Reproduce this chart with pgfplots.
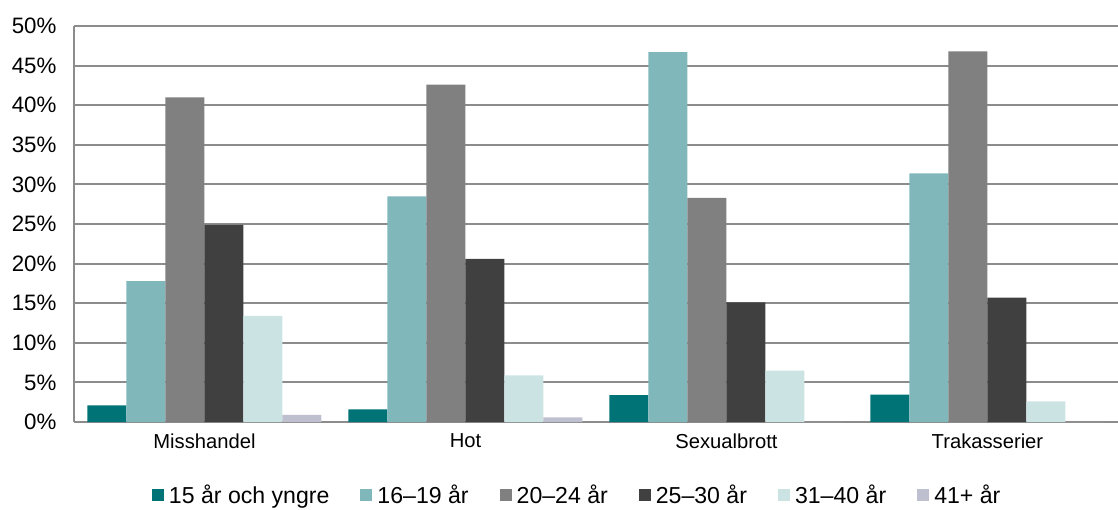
\documentclass[border=0pt]{standalone}
\usepackage{fontspec}
\setmainfont{Liberation Sans}
\usepackage{pgfplots}
\pgfplotsset{compat=1.18}
\definecolor{cA}{HTML}{007377}
\definecolor{cB}{HTML}{7FB7BB}
\definecolor{cC}{HTML}{808080}
\definecolor{cD}{HTML}{404040}
\definecolor{cE}{HTML}{CCE3E4}
\definecolor{cF}{HTML}{BEC0D0}
\definecolor{gridc}{HTML}{8C8C8C}
\begin{document}
\begin{tikzpicture}
\begin{axis}[
  scale only axis, width=1044pt, height=396pt,
  ybar=0pt, bar width=39pt,
  xmin=-0.5, xmax=3.5, ymin=0, ymax=50,
  xtick={0,1,2,3},
  xticklabels={Misshandel,Hot,Sexualbrott,Trakasserier},
  ytick={0,5,...,50},
  yticklabels={0\%,5\%,10\%,15\%,20\%,25\%,30\%,35\%,40\%,45\%,50\%},
  major tick length=0pt,
  axis lines*=left,
  axis line style={draw=gridc, line width=2pt},
  ymajorgrids, grid style={draw=gridc, line width=2pt},
  tick label style={text=black},
  xticklabel style={font=\fontsize{20.2}{24}\selectfont, yshift=-8pt},
  yticklabel style={font=\fontsize{22.3}{26}\selectfont, xshift=-14pt},
  legend style={draw=none, fill=none, at={(0.482,-0.185)}, anchor=center,
    legend columns=6, font=\fontsize{23.1}{26}\selectfont,
    /tikz/every odd column/.append style={column sep=3pt},
    /tikz/every even column/.append style={column sep=29pt}},
  legend image code/.code={\fill[#1] (0pt,-6pt) rectangle (12pt,6pt);},
]
\addplot[fill=cA, draw=none] coordinates {(0,2.1) (1,1.6) (2,3.4) (3,3.45)};
\addplot[fill=cB, draw=none] coordinates {(0,17.8) (1,28.5) (2,46.7) (3,31.4)};
\addplot[fill=cC, draw=none] coordinates {(0,41.0) (1,42.6) (2,28.3) (3,46.8)};
\addplot[fill=cD, draw=none] coordinates {(0,24.9) (1,20.6) (2,15.1) (3,15.7)};
\addplot[fill=cE, draw=none] coordinates {(0,13.4) (1,5.9) (2,6.5) (3,2.6)};
\addplot[fill=cF, draw=none] coordinates {(0,0.9) (1,0.6) (2,0) (3,0)};
\legend{15 år och yngre,16–19 år,20–24 år,25–30 år,31–40 år,41+ år}
\end{axis}
\pgfresetboundingbox
\path[use as bounding box] (current axis.south west) ++(-74pt,-87pt) rectangle ++(1118pt,509pt);
\end{tikzpicture}
\end{document}
